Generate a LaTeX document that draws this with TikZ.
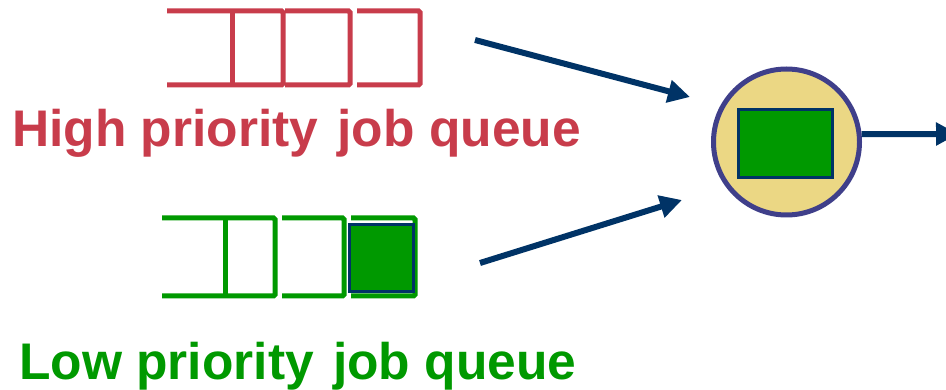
\documentclass[tikz,border=0pt]{standalone}
\usepackage{fontspec}
\setmainfont{Liberation Sans}
\usetikzlibrary{arrows.meta}
\definecolor{qred}{HTML}{C83C4B}
\definecolor{qgreen}{HTML}{009900}
\definecolor{navy}{HTML}{003366}
\definecolor{cpufill}{HTML}{EBD784}
\definecolor{cpuline}{HTML}{3F3F8A}
\tikzset{
  redq/.style={draw=qred,line width=5pt,rounded corners=1.5pt},
  greenq/.style={draw=qgreen,line width=5pt,rounded corners=1.5pt},
  flow/.style={draw=navy,line width=6pt,-{Triangle[length=22pt,width=22pt]}},
  lbl/.style={inner sep=0pt,anchor=base west,font=\fontsize{51.5}{60}\selectfont\bfseries},
  job/.style={draw=navy,fill=qgreen,line width=3pt,inner sep=0pt},
}
\begin{document}
\begin{tikzpicture}[x=1pt,y=-1pt]
\useasboundingbox (0,0) rectangle (946,390);
% high priority queue
\draw[redq] (167,11) -- (283,11) -- (283,85) -- (167,85);
\draw[redq] (232,11) -- (232,85);
\draw[redq] (285,11) -- (350,11) -- (350,85) -- (285,85);
\draw[redq] (357,11) -- (420,11) -- (420,85) -- (357,85);
\node[lbl,text=qred] (hlbl) at (12,147) {High priority\hspace{5pt} job queue};
% low priority queue
\draw[greenq] (162,218) -- (275,218) -- (275,296) -- (162,296);
\draw[greenq] (225,218) -- (225,296);
\draw[greenq] (282,218) -- (344,218) -- (344,296) -- (282,296);
\draw[greenq] (351,218) -- (415,218) -- (415,296) -- (351,296);
\node[job,minimum width=64pt,minimum height=67pt] (ljob) at (381,258.5) {};
\node[lbl,text=qgreen] (llbl) at (19,380) {Low priority\hspace{5pt} job queue};
% processor
\node[circle,draw=cpuline,fill=cpufill,line width=5pt,minimum size=146pt,inner sep=0pt] (cpu) at (786.5,142) {};
\node[job,minimum width=94pt,minimum height=68pt] (run) at (785,144) {};
% arrows
\coordinate (hs) at (475,40);
\coordinate (ht) at (690,97);
\coordinate (ls) at (480,263);
\coordinate (lt) at (682,200);
\coordinate (out) at (958,134);
\draw[flow] (hs) -- (ht);
\draw[flow] (ls) -- (lt);
\draw[flow] (cpu.6.3) -- (out);
\end{tikzpicture}
\end{document}
